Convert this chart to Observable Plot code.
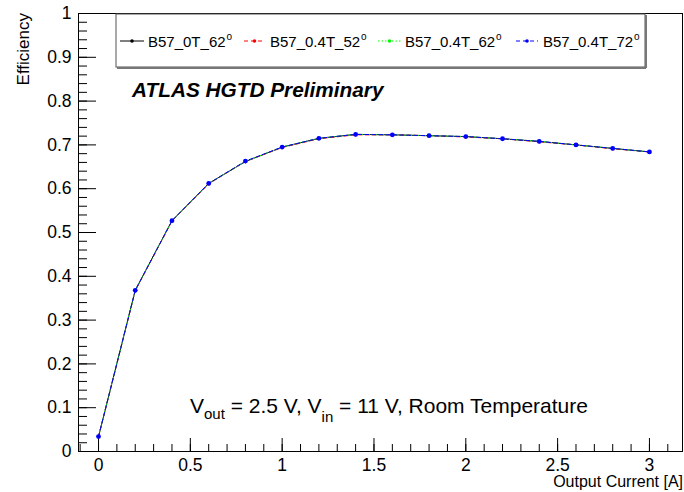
<!DOCTYPE html>
<html><head><meta charset="utf-8">
<script src="https://cdn.jsdelivr.net/npm/d3@7"></script>
<script src="https://cdn.jsdelivr.net/npm/@observablehq/plot@0.6"></script>
<style>
body{margin:0;background:#fff}
#chart{position:relative;width:684px;height:492px}
svg{font-family:"Liberation Sans",Arial,sans-serif}
</style>
</head><body><div id="chart"></div>
<script>
// ---- data ----
const current = [0, 0.2, 0.4, 0.6, 0.8, 1.0, 1.2, 1.4, 1.6, 1.8, 2.0, 2.2, 2.4, 2.6, 2.8, 3.0];
const eff_0T_62   = [0.034, 0.368, 0.527, 0.612, 0.662, 0.695, 0.715, 0.724, 0.723, 0.721, 0.719, 0.714, 0.708, 0.700, 0.692, 0.684];
const eff_04T_52  = [0.034, 0.367, 0.526, 0.611, 0.662, 0.694, 0.714, 0.723, 0.723, 0.721, 0.718, 0.714, 0.707, 0.700, 0.691, 0.684];
const eff_04T_62  = [0.034, 0.368, 0.527, 0.612, 0.662, 0.695, 0.715, 0.724, 0.723, 0.721, 0.719, 0.714, 0.708, 0.700, 0.692, 0.684];
const eff_04T_72  = [0.034, 0.368, 0.527, 0.612, 0.663, 0.695, 0.715, 0.724, 0.723, 0.721, 0.719, 0.714, 0.708, 0.700, 0.692, 0.684];
const seriesNames = ["B57_0T_62", "B57_0.4T_52", "B57_0.4T_62", "B57_0.4T_72"];
const seriesValues = [eff_0T_62, eff_04T_52, eff_04T_62, eff_04T_72];
const xTicks = [0, 0.5, 1, 1.5, 2, 2.5, 3];
const yTicks = [0, 0.1, 0.2, 0.3, 0.4, 0.5, 0.6, 0.7, 0.8, 0.9, 1];
const xTitle = "Output Current [A]";
const yTitle = "Efficiency";

// ---- styles ----
const colors = ["#000000", "#ff0000", "#00ff00", "#0000ff"];
const dashes = [null, "4,3", "1.5,2", "4,3"];
const W = 684, H = 492, mL = 78, mR = 2, mT = 13, mB = 41;
const fw = W - mL - mR, fh = H - mT - mB;

const xMinor = d3.range(-1, 32).map(i => i / 10);
const yMinor = d3.range(0, 51).map(i => i / 50);

const marks = [
  Plot.frame({stroke: "black", strokeWidth: 1}),
  Plot.tickY(yMinor, {y: d => d, insetRight: fw - 9, stroke: "black"}),
  Plot.tickY(yTicks, {y: d => d, insetRight: fw - 18, stroke: "black"}),
  Plot.tickX(xMinor.filter(v => v >= -0.109 && v <= 3.18), {x: d => d, insetTop: fh - 7, stroke: "black"}),
  Plot.tickX(xTicks, {x: d => d, insetTop: fh - 13, stroke: "black"}),
  Plot.axisY(yTicks, {tickSize: 0, tickPadding: 7, tickFormat: d => String(d), label: null, fontSize: 17.5, fill: "black"}),
  Plot.axisX(xTicks, {tickSize: 0, tickPadding: 7, tickFormat: d => String(d), label: null, fontSize: 17.5, fill: "black"})
];
seriesValues.forEach((vals, i) => {
  const rows = current.map((c, j) => ({c, e: vals[j]}));
  marks.push(Plot.line(rows, {x: "c", y: "e", stroke: colors[i], strokeWidth: 1, strokeDasharray: dashes[i]}));
  marks.push(Plot.dot(rows, {x: "c", y: "e", r: i === 3 ? 2.4 : 1.6, fill: colors[i], stroke: "none"}));
});

const plot = Plot.plot({
  width: W, height: H,
  marginLeft: mL, marginRight: mR, marginTop: mT, marginBottom: mB,
  x: {domain: [-0.109, 3.18], axis: null},
  y: {domain: [0, 1], axis: null},
  style: {fontFamily: "'Liberation Sans', Arial, sans-serif", color: "black", background: "white"},
  marks
});
document.getElementById("chart").appendChild(plot);

// ---- annotations ----
const svg = d3.select(plot);
const font = "'Liberation Sans', Arial, sans-serif";
const addText = (sel) => sel.append("text").attr("font-family", font).attr("fill", "black").attr("text-anchor", "start");

// axis titles
addText(svg).attr("x", W - 1).attr("y", 487).attr("text-anchor", "end").attr("font-size", 16).text(xTitle);
addText(svg).attr("transform", "translate(29,13) rotate(-90)").attr("text-anchor", "end").attr("font-size", 17).text(yTitle);

// ATLAS label
addText(svg).attr("x", 132).attr("y", 97).attr("font-size", 20.8).attr("font-weight", "bold")
  .attr("font-style", "italic").text("ATLAS HGTD Preliminary");

// conditions
const cond = addText(svg).attr("x", 190).attr("y", 413).attr("font-size", 21);
cond.append("tspan").text("V");
cond.append("tspan").attr("font-size", 15).attr("dy", 6).text("out");
cond.append("tspan").attr("dy", -6).text(" = 2.5 V, V");
cond.append("tspan").attr("font-size", 15).attr("dy", 9).text("in");
cond.append("tspan").attr("dy", -9).text(" = 11 V, Room Temperature");

// legend
const leg = svg.append("g");
leg.append("rect").attr("x", 116).attr("y", 14).attr("width", 529).attr("height", 53)
  .attr("fill", "white").attr("stroke", "#555").attr("stroke-width", 1);
leg.append("line").attr("x1", 117).attr("x2", 646).attr("y1", 68).attr("y2", 68).attr("stroke", "#777").attr("stroke-width", 2);
leg.append("line").attr("x1", 646).attr("x2", 646).attr("y1", 15).attr("y2", 68).attr("stroke", "#777").attr("stroke-width", 2);
const sampleX = [[120, 144], [244, 265], [378, 401], [516, 538]];
const textX = [148, 270, 405, 543];
seriesNames.forEach((name, i) => {
  const [a, b] = sampleX[i];
  leg.append("line").attr("x1", a).attr("x2", b).attr("y1", 41).attr("y2", 41)
    .attr("stroke", colors[i]).attr("stroke-width", 1).attr("stroke-dasharray", dashes[i]);
  leg.append("circle").attr("cx", (a + b) / 2).attr("cy", 41).attr("r", 1.8).attr("fill", colors[i]);
  const t = addText(leg).attr("x", textX[i]).attr("y", 46.5).attr("font-size", 15);
  t.append("tspan").text(name);
  t.append("tspan").attr("font-size", 10).attr("dy", -7).attr("dx", 1).text("o");
});
</script>
</body></html>
